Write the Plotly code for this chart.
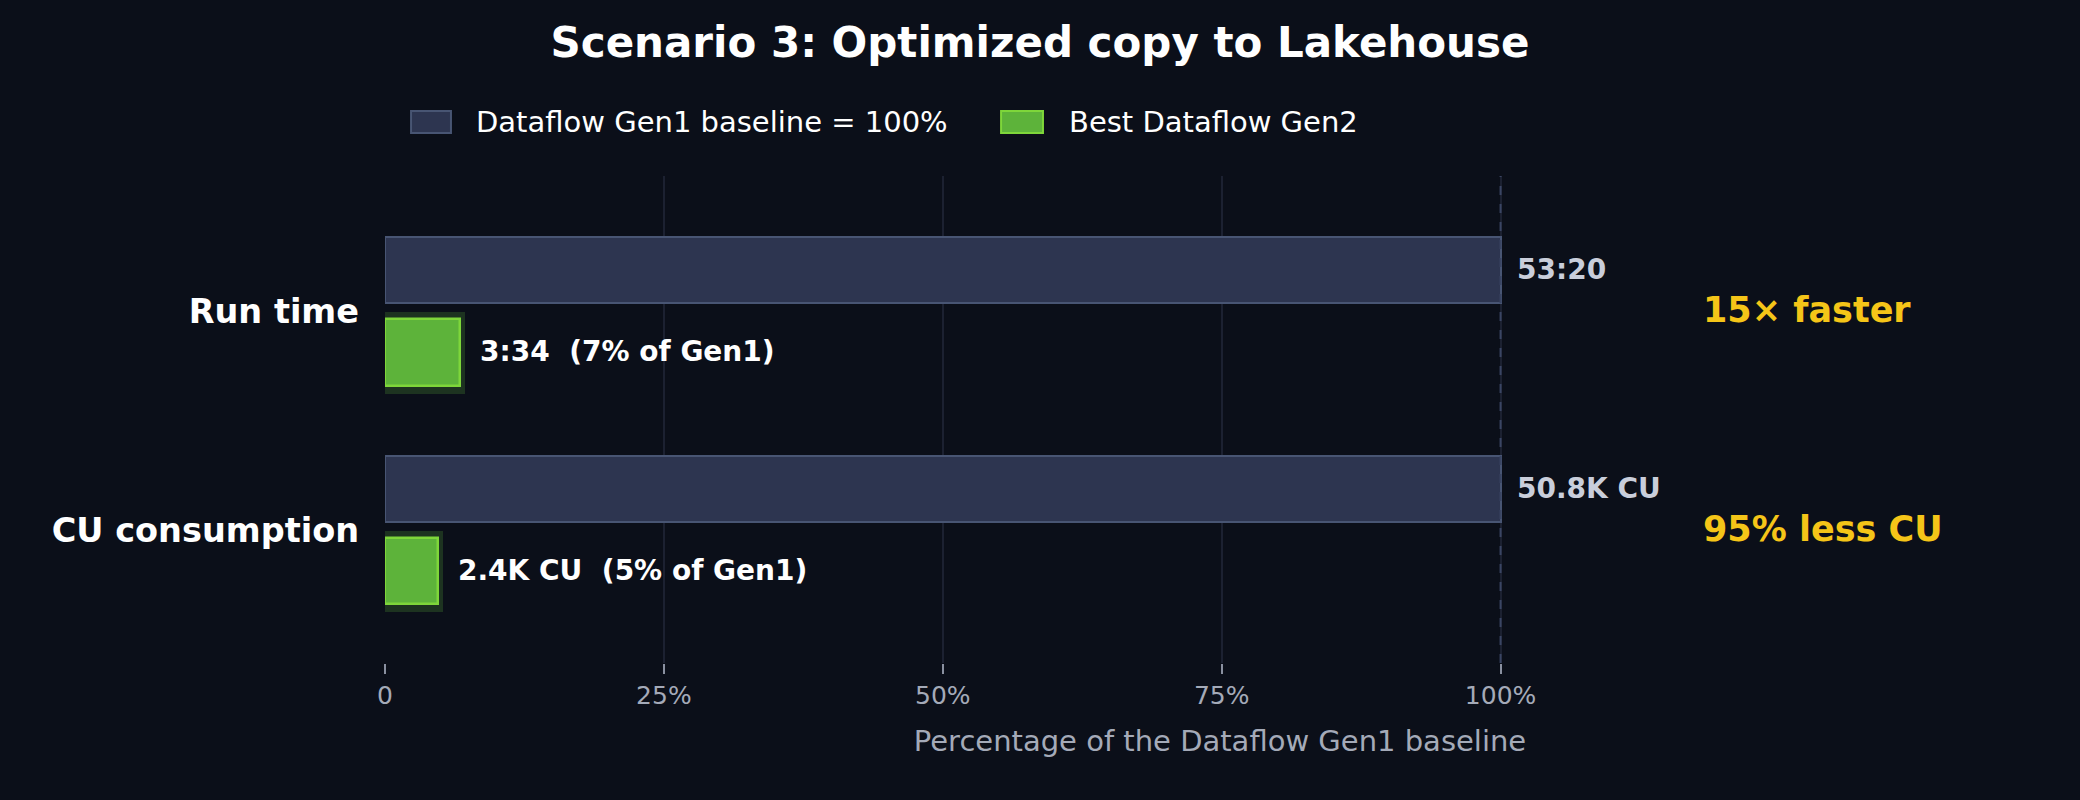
import plotly.graph_objects as go

# data
categories = ["Run time", "CU consumption"]
gen1_pct = [100, 100]
gen2_pct = [6.69, 4.72]
gen1_labels = ["53:20", "50.8K CU"]
gen2_labels = ["3:34  (7% of Gen1)", "2.4K CU  (5% of Gen1)"]
callouts = ["15× faster", "95% less CU"]
tick_vals = [0, 25, 50, 75, 100]
tick_text = ["0", "25%", "50%", "75%", "100%"]
legend_names = ["Dataflow Gen1 baseline = 100%", "Best Dataflow Gen2"]

BG = "#0b0f19"
FONT = "DejaVu Sans"
GEN1_FILL, GEN1_EDGE = "#2d3550", "#485573"
GEN2_FILL, GEN2_EDGE = "#5db33a", "#7ed63a"

fig = go.Figure()

# soft glow behind the green bars
fig.add_trace(go.Bar(
    y=categories, x=[v + 0.5 for v in gen2_pct], orientation="h",
    offset=0.005, width=0.372,
    marker=dict(color="#1d3320", line=dict(width=0)),
    showlegend=False, hoverinfo="skip",
))
fig.add_trace(go.Bar(
    y=categories, x=gen1_pct, orientation="h", name=legend_names[0],
    offset=-0.339, width=0.302, showlegend=False,
    marker=dict(color=GEN1_FILL, line=dict(color=GEN1_EDGE, width=2)),
))
fig.add_trace(go.Bar(
    y=categories, x=gen2_pct, orientation="h", name=legend_names[1],
    offset=0.037, width=0.305, showlegend=False,
    marker=dict(color=GEN2_FILL, line=dict(color=GEN2_EDGE, width=2.5)),
))

for i, cat in enumerate(categories):
    fig.add_annotation(x=gen1_pct[i], y=i - 0.19, xref="x", yref="y", text=gen1_labels[i],
                       showarrow=False, xanchor="left", xshift=14,
                       font=dict(family=FONT, size=28, color="#c9cedb", weight="bold"))
    fig.add_annotation(x=gen2_pct[i], y=i + 0.185, xref="x", yref="y", text=gen2_labels[i],
                       showarrow=False, xanchor="left", xshift=18,
                       font=dict(family=FONT, size=28, color="#ffffff", weight="bold"))
    fig.add_annotation(x=118, y=i - 0.005, xref="x", yref="y", text=callouts[i],
                       showarrow=False, xanchor="left",
                       font=dict(family=FONT, size=35, color="#f5c518", weight="bold"))

fig.add_shape(type="line", x0=100, x1=100, y0=0, y1=1, xref="x", yref="paper",
              line=dict(color="#3a4563", width=2, dash="dash"))

# legend drawn by hand (wide rectangular swatches)
legend_items = [
    (legend_names[0], GEN1_FILL, GEN1_EDGE, 0.0156, 0.0395, 0.0533),
    (legend_names[1], GEN2_FILL, GEN2_EDGE, 0.3689, 0.3940, 0.4084),
]
for name, fill, edge, x0, x1, xt in legend_items:
    fig.add_shape(type="rect", xref="paper", yref="paper", x0=x0, x1=x1, y0=1.0883, y1=1.1335,
                  fillcolor=fill, line=dict(color=edge, width=2))
    fig.add_annotation(x=xt, y=1.111, xref="paper", yref="paper", text=name, showarrow=False,
                       xanchor="left", yanchor="middle",
                       font=dict(family=FONT, size=29, color="#ffffff"))

fig.update_layout(
    width=2080, height=800,
    paper_bgcolor=BG, plot_bgcolor=BG,
    font=dict(family=FONT, color="#ffffff"),
    title=dict(text="<b>Scenario 3: Optimized copy to Lakehouse</b>", x=0.5, xanchor="center",
               y=0.947, yanchor="middle", font=dict(size=42, color="#ffffff")),
    margin=dict(l=385, r=25, t=176, b=137),
    bargap=0, showlegend=False,
)
fig.update_xaxes(range=[0, 149.7], tickvals=tick_vals, ticktext=tick_text,
                 showgrid=True, gridcolor="#1c2131", gridwidth=1.5, zeroline=False,
                 ticks="outside", ticklen=10, tickcolor="#8a90a0", tickwidth=1.5,
                 tickfont=dict(size=25, color="#a4aab8"),
                 title=dict(text="Percentage of the Dataflow Gen1 baseline",
                            font=dict(size=29, color="#a4aab8"), standoff=21),
                 showline=False)
fig.update_yaxes(range=[1.61, -0.62], showgrid=False, zeroline=False,
                 tickfont=dict(size=33.5, color="#ffffff", weight="bold"),
                 ticks="", ticklabelstandoff=25)

fig.write_html("out.html", config={"displayModeBar": False},
               post_script="document.body.style.margin='0';document.body.style.background='#0b0f19';")
